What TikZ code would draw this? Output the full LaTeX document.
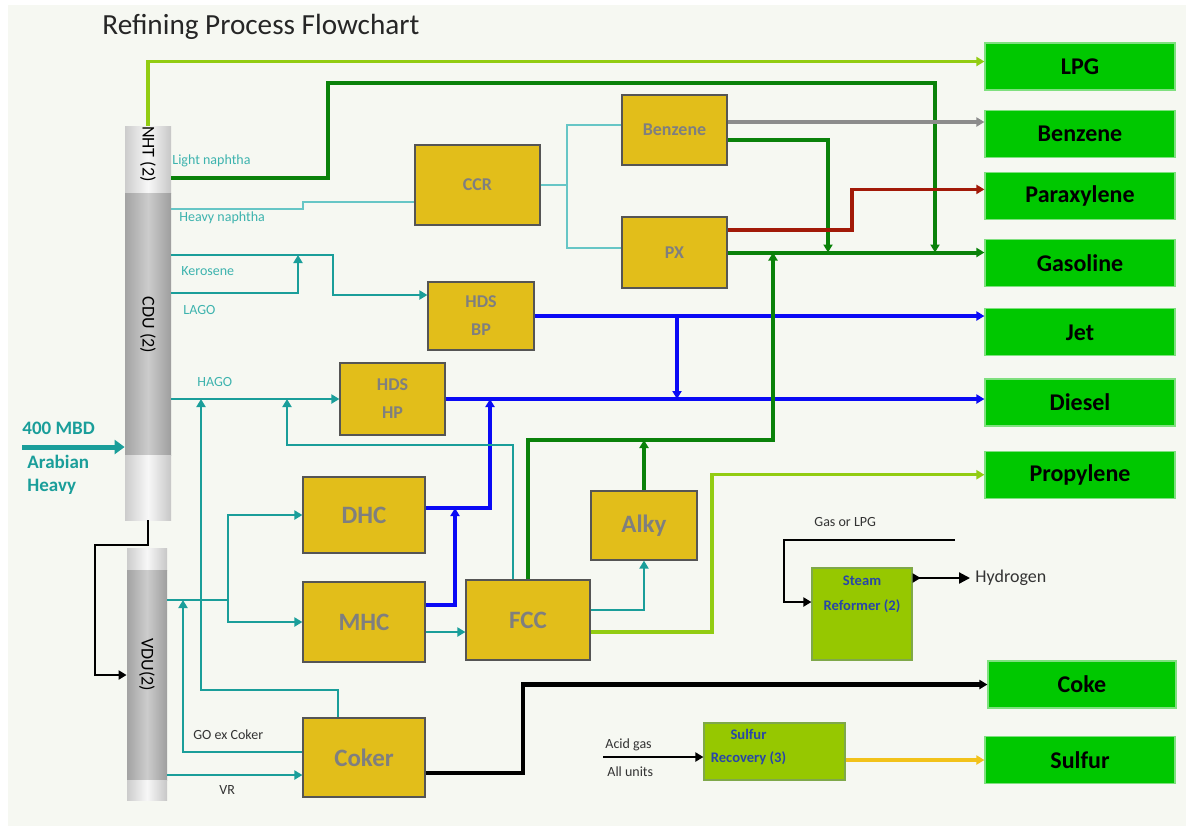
\documentclass[tikz,border=0pt]{standalone}
\usepackage{fontspec}
\setmainfont{Carlito}
\usetikzlibrary{arrows.meta,positioning}

\definecolor{paper}{HTML}{F6F8F2}
\definecolor{gold}{HTML}{E2BE1A}
\definecolor{boxedge}{HTML}{555555}
\definecolor{boxtext}{HTML}{7F7F7F}
\definecolor{prodgreen}{HTML}{00C800}
\definecolor{prodedge}{HTML}{7FE07F}
\definecolor{limegreen}{HTML}{96C800}
\definecolor{limeedge}{HTML}{7FA84A}
\definecolor{navytext}{HTML}{2846A8}
\definecolor{flowteal}{HTML}{1A9E9A}
\definecolor{paleteal}{HTML}{66C6C6}
\definecolor{labelteal}{HTML}{3DB3AE}
\definecolor{dkgreen}{HTML}{0A820A}
\definecolor{ltgreen}{HTML}{92CC12}
\definecolor{flowblue}{HTML}{0A0AF5}
\definecolor{flowred}{HTML}{A21A08}
\definecolor{flowgray}{HTML}{8C8C8C}
\definecolor{flowyellow}{HTML}{F2C21A}
\definecolor{inktext}{HTML}{333333}

\begin{document}
\begin{tikzpicture}[x=0.5pt,y=-0.5pt,>={Triangle[length=4pt,width=4.5pt]},
                    every node/.append style={inner sep=0pt}]
  \tikzstyle{unit}=[draw=boxedge,fill=gold,line width=0.6pt,text=boxtext,align=center,
                    font=\bfseries\fontsize{9}{11}\selectfont]
  \tikzstyle{bigunit}=[unit,font=\bfseries\fontsize{12.5}{14}\selectfont]
  \tikzstyle{product}=[draw=prodedge,fill=prodgreen,line width=0.6pt,minimum width=95pt,
                       minimum height=23.5pt,font=\bfseries\fontsize{12}{14}\selectfont]
  \tikzstyle{aux}=[draw=limeedge,fill=limegreen,line width=0.6pt]
  \tikzstyle{auxtext}=[text=navytext,align=center,font=\bfseries\fontsize{7.3}{9}\selectfont]
  \tikzstyle{colhi}=[left color=black!20,right color=black!22,middle color=black!3]
  \tikzstyle{coldk}=[left color=black!36,right color=black!38,middle color=black!20]
  \tikzstyle{coltext}=[rotate=-90,font=\fontsize{9}{10}\selectfont]
  \tikzstyle{flowlabel}=[text=labelteal,font=\fontsize{7}{8}\selectfont]
  \tikzstyle{inklabel}=[text=inktext,font=\fontsize{7}{8}\selectfont]
  \tikzstyle{feedlabel}=[text=flowteal,align=left,font=\bfseries\fontsize{9.5}{11.5}\selectfont]
  \tikzstyle{tealflow}=[flowteal,line width=1.2pt]
  \tikzstyle{paleflow}=[paleteal,line width=0.6pt]
  \tikzstyle{dkgflow}=[dkgreen,line width=2pt]
  \tikzstyle{ltgflow}=[ltgreen,line width=1.6pt]
  \tikzstyle{blueflow}=[flowblue,line width=2pt]
  \tikzstyle{redflow}=[flowred,line width=1.8pt]
  \tikzstyle{grayflow}=[flowgray,line width=1.8pt]
  \tikzstyle{blackflow}=[black,line width=2.2pt]
  \tikzstyle{inkflow}=[black,line width=1.1pt]
  \tikzstyle{yellowflow}=[flowyellow,line width=1.6pt]

  \fill[white] (0,0) rectangle (1186,826);
  \fill[paper] (8,5) rectangle (1186,826);
  \useasboundingbox (0,0) rectangle (1186,826);

  \node[anchor=west,text=black!85,font=\fontsize{14.6}{16}\selectfont] (title) at (102,27)
       {Refining Process Flowchart};

  % distillation columns
  \node[colhi,minimum width=23pt,minimum height=33.5pt] (nht) at (148,159.5) {};
  \node[coldk,minimum width=23pt,minimum height=131pt] (cdu) at (148,324) {};
  \node[colhi,minimum width=23pt,minimum height=32.5pt] (cdulow) at (148,487.5) {};
  \node[colhi,minimum width=20pt,minimum height=11pt] (vdutop) at (147,559) {};
  \node[coldk,minimum width=20pt,minimum height=105pt] (vdu) at (147,675) {};
  \node[colhi,minimum width=20pt,minimum height=10pt] (vdulow) at (147,790) {};
  \node[coltext] (nhtname) at (148,154) {NHT (2)};
  \node[coltext] (cduname) at (148,325) {CDU (2)};
  \node[coltext] (vduname) at (147,665) {VDU(2)};

  % process units
  \node[unit,minimum width=62.5pt,minimum height=40pt] (ccr) at (477.5,185) {CCR};
  \node[unit,minimum width=52.5pt,minimum height=35pt] (benz) at (674.5,130) {Benzene};
  \node[unit,minimum width=52.5pt,minimum height=35.5pt] (px) at (674.5,252.5) {PX};
  \node[unit,minimum width=53pt,minimum height=34pt] (hdsbp) at (481,316) {HDS\\[3pt]BP};
  \node[unit,minimum width=52.5pt,minimum height=36pt] (hdshp) at (392.5,399) {HDS\\[3pt]HP};
  \node[bigunit,minimum width=61pt,minimum height=38pt] (dhc) at (364,515) {DHC};
  \node[bigunit,minimum width=61pt,minimum height=40pt] (mhc) at (364,622) {MHC};
  \node[bigunit,minimum width=61pt,minimum height=39.5pt] (coker) at (364,757.5) {Coker};
  \node[bigunit,minimum width=62pt,minimum height=40pt] (fcc) at (528,620) {FCC};
  \node[bigunit,minimum width=53pt,minimum height=34.5pt] (alky) at (644,525.5) {Alky};

  \node[aux,minimum width=50pt,minimum height=46pt] (steam) at (862,614) {};
  \node[auxtext,below=4pt of steam.north] (steamname) {Steam\\[3.5pt]Reformer (2)};
  \node[aux,minimum width=70.5pt,minimum height=28.5pt] (sru) at (774.5,751.5) {};
  \node[auxtext,below=3pt of sru.north,xshift=-13pt] (sruname) {Sulfur\\[2.5pt]Recovery (3)};

  % products
  \node[product] (lpg) at (1080,66.5) {LPG};
  \node[product,below=9.5pt of lpg] (benzp) {Benzene};
  \node[product,below=7pt of benzp] (parax) {Paraxylene};
  \node[product,below=9.5pt of parax] (gasol) {Gasoline};
  \node[product,below=10.5pt of gasol] (jet) {Jet};
  \node[product,below=11pt of jet] (diesel) {Diesel};
  \node[product,below=12pt of diesel] (propyl) {Propylene};
  \node[product,minimum width=94pt] (coke) at (1082,684.5) {Coke};
  \node[product] (sulfur) at (1080,760) {Sulfur};
  \node[anchor=west,text=inktext,font=\fontsize{9}{10}\selectfont] (h2) at (975,578) {Hydrogen};

  % stream names
  \node[flowlabel,anchor=west] (lnlabel) at (172,161) {Light naphtha};
  \node[flowlabel,anchor=west] (hnlabel) at (179,218) {Heavy naphtha};
  \node[flowlabel,anchor=west] (kerolabel) at (181,271) {Kerosene};
  \node[flowlabel,anchor=west] (lagolabel) at (183,310) {LAGO};
  \node[flowlabel,anchor=west] (hagolabel) at (197,382) {HAGO};
  \node[inklabel,anchor=west] (golabel) at (193,735) {GO ex Coker};
  \node[inklabel,anchor=west] (vrlabel) at (219,790) {VR};
  \node[inklabel,anchor=west] (gaslabel) at (814,522) {Gas or LPG};
  \node[inklabel,anchor=west] (acidlabel) at (605,745) {Acid gas};
  \node[inklabel,anchor=west] (unitslabel) at (607,772) {All units};
  \node[feedlabel,anchor=west] (mbd) at (22,428) {400 MBD};
  \node[feedlabel,anchor=north west] (crude) at (27,455) {Arabian\\Heavy};

  % where one stream joins another
  \coordinate (feed) at (22,447);
  \coordinate (bzjoin) at (828,252.5);
  \coordinate (lnjoin) at (935,252.5);
  \coordinate (fccjoin) at (773,252.5);
  \coordinate (alkyjoin) at (644,440);
  \coordinate (jetdrop) at (677,399);
  \coordinate (dhcjoin) at (490,399);
  \coordinate (mhcjoin) at (455,508);
  \coordinate (kerojoin) at (298,255);
  \coordinate (hagojoin1) at (201,399);
  \coordinate (hagojoin2) at (287,399);
  \coordinate (vsplit) at (228,600);
  \coordinate (gojoin) at (183,600);
  \coordinate (gasin) at (955,540);
  \coordinate (acidin) at (603,757);

  % crude in, column to column
  \draw[flowteal,line width=2.5pt,-{Triangle[length=5pt,width=7pt]}] (feed) -- (cdu.west |- feed);
  \draw[inkflow,->] (cdulow.south) |- (95,545) |- (vdu.west);

  % naphtha and aromatics
  \draw[ltgflow,->] (nht.north) |- ([yshift=2.5pt]lpg.west);
  \draw[dkgflow,->] (nht.east |- 0,178) -| (328,83) -| (lnjoin);
  \draw[paleflow] (cdu.east |- 0,209) -- (303,209) |- ([yshift=-8.5pt]ccr.west);
  \draw[paleflow] (ccr.east) -- (567,185) |- ([yshift=2.5pt]benz.west);
  \draw[paleflow] (567,185) |- ([yshift=2.25pt]px.west);
  \draw[grayflow,->] ([yshift=4pt]benz.east) -- ([yshift=4pt]benz.east -| benzp.west);
  \draw[dkgflow,->] ([yshift=-5pt]benz.east) -| (bzjoin);
  \draw[redflow,->] ([yshift=11.25pt]px.east) -- (852,230) |- ([yshift=3.25pt]parax.west);
  \draw[dkgflow,->] (px.east) -- (px.east -| gasol.west);

  % middle distillates
  \draw[tealflow,->] (cdu.east |- 0,255) -- (333,255) |- ([yshift=10.5pt]hdsbp.west);
  \draw[tealflow,->] (cdu.east |- 0,293) -| (kerojoin);
  \draw[tealflow,->] (cdu.east |- hdshp.west) -- (hdshp.west);
  \draw[blueflow,->] (hdsbp.east) -- (hdsbp.east -| jet.west);
  \draw[blueflow,->] (hdsbp.east -| jetdrop) -- (jetdrop);
  \draw[blueflow,->] (hdshp.east) -- (hdshp.east -| diesel.west);
  \draw[blueflow,->] (dhc.east |- 0,508) -| (dhcjoin);
  \draw[blueflow,->] (mhc.east |- 0,605) -| (mhcjoin);

  % vacuum side
  \draw[tealflow] (vdu.east |- vsplit) -- (vsplit);
  \draw[tealflow,->] (vsplit) |- (dhc.west);
  \draw[tealflow,->] (vsplit) |- (mhc.west);
  \draw[tealflow,->] ([yshift=2.75pt]coker.west) -| (gojoin);
  \draw[tealflow,->] (vdu.east |- 0,775) -- (coker.west |- 0,775);
  \draw[tealflow,->] ([xshift=-13pt]coker.north) |- (201,690) -- (hagojoin1);
  \draw[tealflow,->] ([xshift=-7.5pt]fcc.north) |- (287,445) -- (hagojoin2);
  \draw[tealflow,->] (mhc.east |- 0,632) -- (fcc.west |- 0,632);
  \draw[tealflow,->] (fcc.east |- 0,610) -| (alky.south);
  \draw[dkgflow,->] (fcc.north) |- (773,440) -- (fccjoin);
  \draw[dkgflow,->] (alky.north) -- (alkyjoin);
  \draw[ltgflow,->] (fcc.east |- 0,632) -- (712,632) |- (propyl.west);
  \draw[blackflow,->] (coker.east |- 0,773) -- (523,773) |- (coke.west);

  % utilities
  \draw[inkflow,->] (gasin) -- (784,540) |- ([yshift=6pt]steam.west);
  \draw[inkflow,{Triangle[reversed,length=4pt,width=4.5pt]}-{Triangle[length=5.5pt,width=5.5pt]}]
       ([yshift=18pt]steam.east) -- ([xshift=-2.5pt]h2.west);
  \draw[inkflow,->] (acidin) -- ([yshift=-2.75pt]sru.west);
  \draw[yellowflow,->] (sulfur.west -| sru.east) -- (sulfur.west);
\end{tikzpicture}
\end{document}
